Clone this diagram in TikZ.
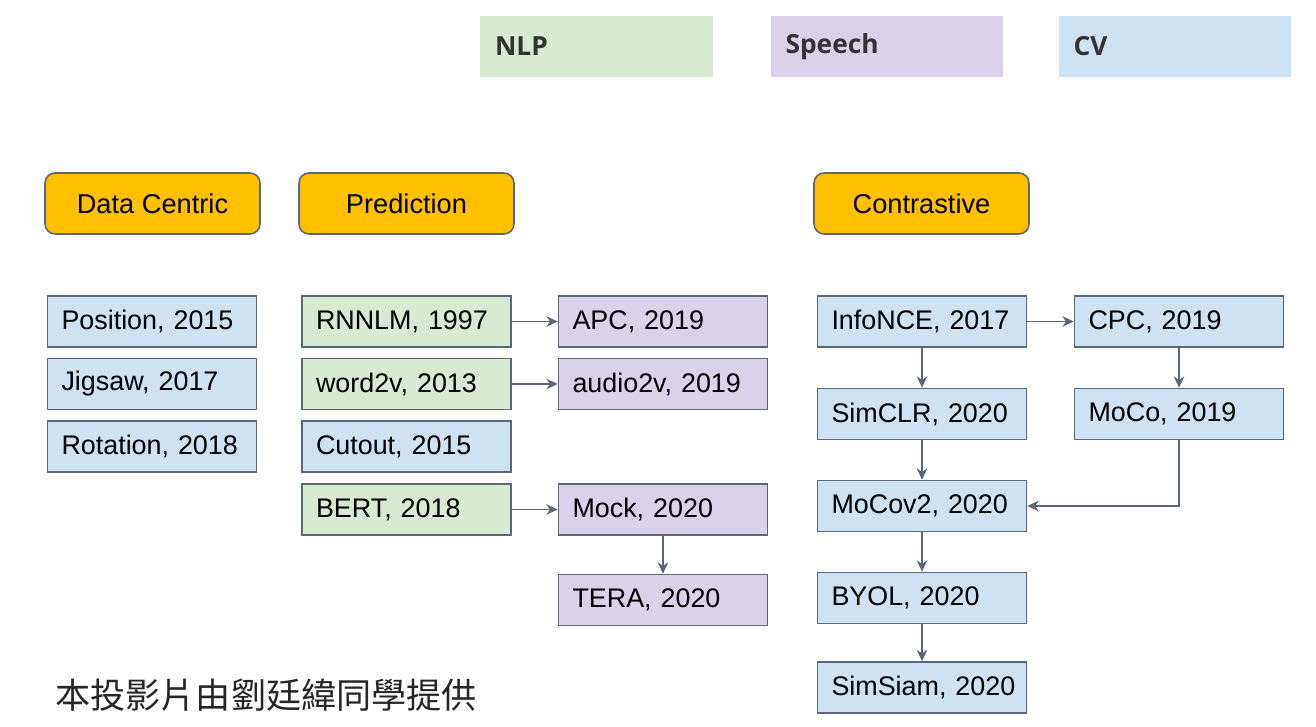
\documentclass[tikz,border=0pt]{standalone}
\usepackage{fontspec}
\setmainfont{Liberation Sans}
\newfontfamily\legendfont{Open Sans}
\newfontfamily\cjk{Noto Sans CJK TC}
\usetikzlibrary{arrows.meta}
\definecolor{nlp}{HTML}{D9EAD3}
\definecolor{speech}{HTML}{D9D2E9}
\definecolor{cv}{HTML}{CFE2F3}
\definecolor{cat}{HTML}{FFC000}
\definecolor{edge}{HTML}{5B6678}
\begin{document}
\begin{tikzpicture}[x=0.02cm,y=-0.02cm,>={Stealth[length=6.5pt,width=6pt]},
  box/.style={draw=edge,line width=0.9pt,minimum height=1.02cm,text width=3.9cm,inner xsep=0.14cm,align=left,font=\fontsize{15.3}{18}\selectfont,execute at begin node=\hspace*{0.14cm}},
  legend/.style={minimum height=1.22cm,text width=4.06cm,inner xsep=0.3cm,align=left,font=\legendfont\bfseries\fontsize{15}{18}\selectfont,text=black!80},
  category/.style={draw=edge,line width=0.9pt,fill=cat,rounded corners=0.2cm,minimum height=1.22cm,minimum width=4.3cm,font=\fontsize{15.5}{18}\selectfont},
  link/.style={->,draw=edge,line width=1pt}]
\useasboundingbox (0,0) rectangle (1316,727);
\node[legend,fill=nlp] (nlpkey) at (596.5,46.5) {NLP};
\node[legend,fill=speech] (speechkey) at (887,46.5) {Speech};
\node[legend,fill=cv] (cvkey) at (1175,46.5) {CV};

\node[category] (datacentric) at (152.5,203.5) {Data Centric};
\node[category] (prediction) at (406.5,203.5) {Prediction};
\node[category] (contrastive) at (921.5,203.5) {Contrastive};

\node[box,fill=cv] (position) at (152,321.5) {Position, 2015};
\node[box,fill=cv] (jigsaw) at (152,384) {Jigsaw, 2017};
\node[box,fill=cv] (rotation) at (152,446.5) {Rotation, 2018};

\node[box,fill=nlp] (rnnlm) at (406.5,321.5) {RNNLM, 1997};
\node[box,fill=nlp] (wordvec) at (406.5,384) {word2v, 2013};
\node[box,fill=cv] (cutout) at (406.5,446.5) {Cutout, 2015};
\node[box,fill=nlp] (bert) at (406.5,509.5) {BERT, 2018};
\node[box,fill=speech] (apc) at (663,321.5) {APC, 2019};
\node[box,fill=speech] (audiovec) at (663,384) {audio2v, 2019};
\node[box,fill=speech] (mock) at (663,509.5) {Mock, 2020};
\node[box,fill=speech] (tera) at (663,600) {TERA, 2020};

\node[box,fill=cv] (infonce) at (922,321.5) {InfoNCE, 2017};
\node[box,fill=cv] (simclr) at (922,414) {SimCLR, 2020};
\node[box,fill=cv] (mocovtwo) at (922,506) {MoCov2, 2020};
\node[box,fill=cv] (byol) at (922,598) {BYOL, 2020};
\node[box,fill=cv] (simsiam) at (922,687.5) {SimSiam, 2020};
\node[box,fill=cv] (cpc) at (1179,321.5) {CPC, 2019};
\node[box,fill=cv] (moco) at (1179,414) {MoCo, 2019};

\draw[link] (rnnlm) -- (apc);
\draw[link] (wordvec) -- (audiovec);
\draw[link] (bert) -- (mock);
\draw[link] (mock) -- (tera);
\draw[link] (infonce) -- (cpc);
\draw[link] (infonce) -- (simclr);
\draw[link] (simclr) -- (mocovtwo);
\draw[link] (mocovtwo) -- (byol);
\draw[link] (byol) -- (simsiam);
\draw[link] (cpc) -- (moco);
\draw[link] (moco) |- (mocovtwo);

\node[anchor=west,inner sep=0pt,font=\cjk\fontsize{20}{24}\selectfont,text=black!85] (credit) at (55,695) {本投影片由劉廷緯同學提供};
\end{tikzpicture}
\end{document}
